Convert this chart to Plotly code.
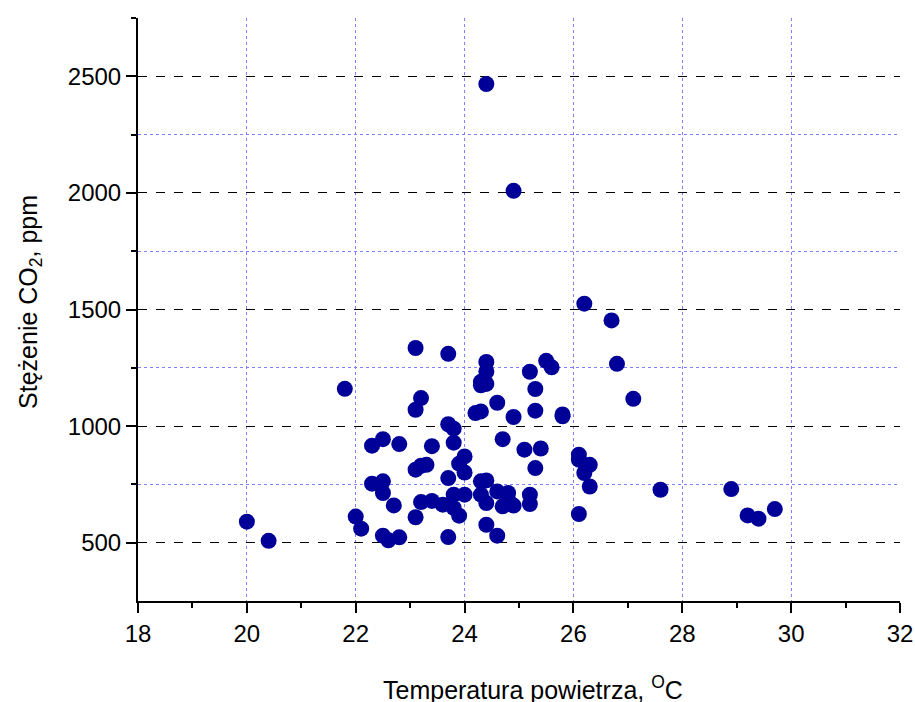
import plotly.graph_objects as go

temperature = [20.0, 20.4, 21.8, 22.0, 22.1, 22.3, 22.5, 22.8, 22.3, 22.5,
               22.5, 22.5, 22.6, 22.8, 22.7, 23.1, 23.2, 23.1, 23.1, 23.2,
               23.3, 23.4, 23.1, 23.2, 23.4, 23.6, 23.7, 23.7, 23.8, 23.8,
               23.7, 23.9, 24.0, 24.0, 23.8, 23.8, 23.9, 24.0, 23.7, 24.3,
               24.4, 24.3, 24.4, 24.4, 24.4, 24.9, 24.2, 24.3, 24.6, 24.9,
               24.3, 24.4, 24.3, 24.4, 24.7, 24.4, 24.6, 24.6, 24.8, 24.7,
               24.9, 24.8, 25.2, 25.5, 25.6, 25.3, 25.3, 25.8, 25.8, 25.1,
               25.4, 25.3, 25.2, 25.2, 26.2, 26.7, 26.8, 27.1, 26.1, 26.1,
               26.3, 26.2, 26.3, 26.1, 27.6, 28.9, 29.2, 29.4, 29.7]
co2 = [590, 508, 1160, 612, 560, 916, 944, 923, 753, 763,
       713, 530, 510, 523, 660, 1335, 1120, 1070, 813, 830,
       834, 914, 609, 674, 679, 663, 1310, 1008, 989, 929,
       777, 839, 870, 801, 706, 649, 616, 706, 524, 1190,
       1181, 1175, 1234, 1275, 2467, 2009, 1056, 1063, 1100, 1039,
       763, 767, 706, 670, 944, 577, 530, 720, 713, 656,
       659, 684, 1233, 1280, 1252, 1159, 1066, 1050, 1042, 899,
       904, 820, 706, 666, 1525, 1453, 1267, 1117, 877, 856,
       834, 799, 741, 623, 727, 730, 617, 603, 644]

x_ticks = [18, 20, 22, 24, 26, 28, 30, 32]
x_minor = [19, 21, 23, 25, 27, 29, 31]
y_ticks = [500, 1000, 1500, 2000, 2500]
y_minor = [750, 1250, 1750, 2250, 2750]

x_title = "Temperatura powietrza, <sup>O</sup>C"
y_title = "Stężenie CO<sub>2</sub>, ppm"

fig = go.Figure()
fig.add_trace(go.Scatter(
    x=temperature, y=co2, mode="markers",
    marker=dict(size=16, color="#000099", line=dict(width=0)),
    showlegend=False,
))

grid_blue = "#7f7fff"
fig.update_layout(
    width=915, height=702,
    margin=dict(l=138, r=15, t=18, b=101),
    plot_bgcolor="white", paper_bgcolor="white",
    font=dict(family="Liberation Sans, Arial, sans-serif", size=24, color="black"),
    xaxis=dict(
        range=[18, 32], tickvals=x_ticks, ticktext=[str(v) for v in x_ticks],
        tickfont=dict(size=24), automargin=False,
        showline=True, linecolor="black", linewidth=2,
        ticks="outside", ticklen=10, tickwidth=2, tickcolor="black",
        showgrid=True, gridcolor=grid_blue, griddash="dot", gridwidth=1,
        zeroline=False,
        minor=dict(tickvals=x_minor, ticks="outside", ticklen=5, tickwidth=2,
                   tickcolor="black", showgrid=False),
    ),
    yaxis=dict(
        range=[250, 2750], tickvals=y_ticks, ticktext=[str(v) for v in y_ticks],
        tickfont=dict(size=24), automargin=False,
        showline=True, linecolor="black", linewidth=2,
        ticks="outside", ticklen=10, tickwidth=2, tickcolor="black",
        showgrid=True, gridcolor="black", griddash="dash", gridwidth=1,
        zeroline=False,
        minor=dict(tickvals=y_minor, ticks="outside", ticklen=5, tickwidth=2,
                   tickcolor="black", showgrid=True, gridcolor=grid_blue,
                   griddash="dot", gridwidth=1),
    ),
    annotations=[
        dict(text=x_title, xref="paper", yref="paper", x=0.519, y=-0.149,
             xanchor="center", yanchor="middle", showarrow=False,
             font=dict(size=25)),
        dict(text=y_title, xref="paper", yref="paper", x=-0.1417, y=0.513,
             xanchor="center", yanchor="middle", showarrow=False,
             textangle=-90, font=dict(size=25)),
    ],
)

fig.write_html("out.html")
